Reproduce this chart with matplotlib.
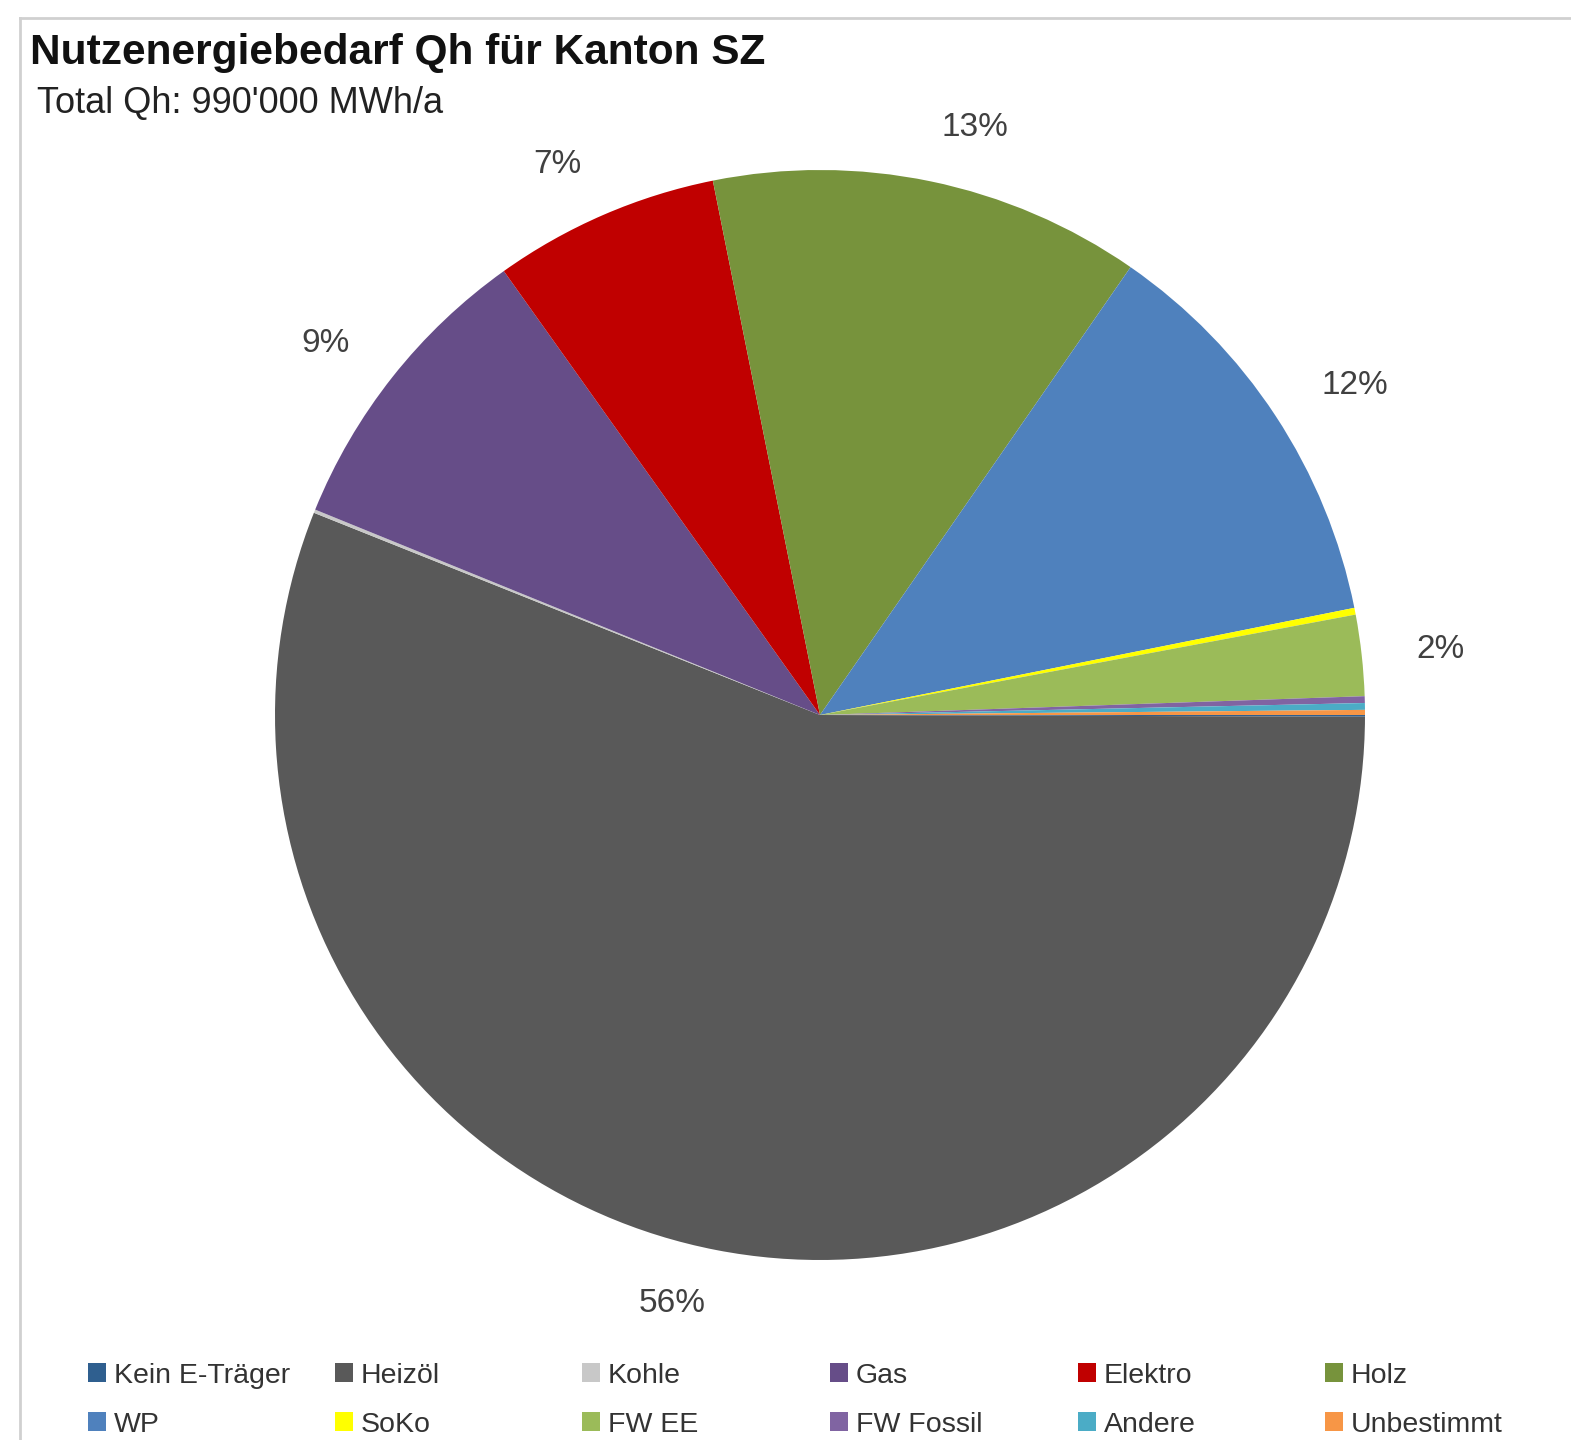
import matplotlib.pyplot as plt
from matplotlib.patches import Rectangle
from matplotlib.lines import Line2D

# categories in Excel series order
traeger = ['Kein E-Träger', 'Heizöl', 'Kohle', 'Gas', 'Elektro', 'Holz',
           'WP', 'SoKo', 'FW EE', 'FW Fossil', 'Andere', 'Unbestimmt']
# share of Qh in percent
anteil = [0.05, 56.0, 0.1, 9.0, 6.7, 12.8, 12.2, 0.2, 2.4, 0.2, 0.2, 0.15]
farben = ['#2f5f8f', '#595959', '#c8c8c8', '#664d88', '#c00000', '#77933c',
          '#4f81bd', '#ffff00', '#9bbb59', '#8064a2', '#4bacc6', '#f79646']
total_qh = "990'000"

plt.rcParams['font.family'] = ['Liberation Sans', 'DejaVu Sans']

W, H = 1571, 1440
fig = plt.figure(figsize=(W / 100, H / 100), dpi=100)

# light frame at top and left (chart area border)
fig.add_artist(Line2D([20 / W, 1], [1 - 18 / H, 1 - 18 / H], color='#d0d0d0', lw=2))
fig.add_artist(Line2D([20 / W, 20 / W], [0, 1 - 18 / H], color='#d0d0d0', lw=2))

fig.text(30 / W, 1 - 53 / H, 'Nutzenergiebedarf Qh für Kanton SZ',
         fontsize=30.5, fontweight='bold', va='center', ha='left', color='#111111')
fig.text(37 / W, 1 - 103 / H, 'Total Qh: ' + total_qh + ' MWh/a',
         fontsize=26, va='center', ha='left', color='#222222')

# pie
cx, cy, r = 820, 715, 545
ax = fig.add_axes([(cx - r) / W, (H - cy - r) / H, 2 * r / W, 2 * r / H])
labels = [f'{round(v):.0f}%' if v >= 1 else '' for v in anteil]
wedges, texts = ax.pie(anteil, colors=farben, startangle=0, counterclock=False,
                       labels=labels, labeldistance=1.1,
                       textprops={'fontsize': 24, 'color': '#404040'},
                       wedgeprops={'linewidth': 0})
ax.set_xlim(-1, 1)
ax.set_ylim(-1, 1)
ax.axis('off')

# legend, 6 columns x 2 rows, drawn manually
col_x = [88, 335, 582, 830, 1078, 1325]
row_y = [1373, 1422]
for i, (name, col) in enumerate(zip(traeger, farben)):
    x = col_x[i % 6]
    y = row_y[i // 6]
    fig.add_artist(Rectangle((x / W, 1 - (y + 9) / H), 18 / W, 19 / H,
                             facecolor=col, edgecolor='none'))
    fig.text((x + 26) / W, 1 - (y + 3) / H, name, fontsize=20.5, va='center',
             ha='left', color='#333333')

fig.savefig('out.png', dpi=100)
